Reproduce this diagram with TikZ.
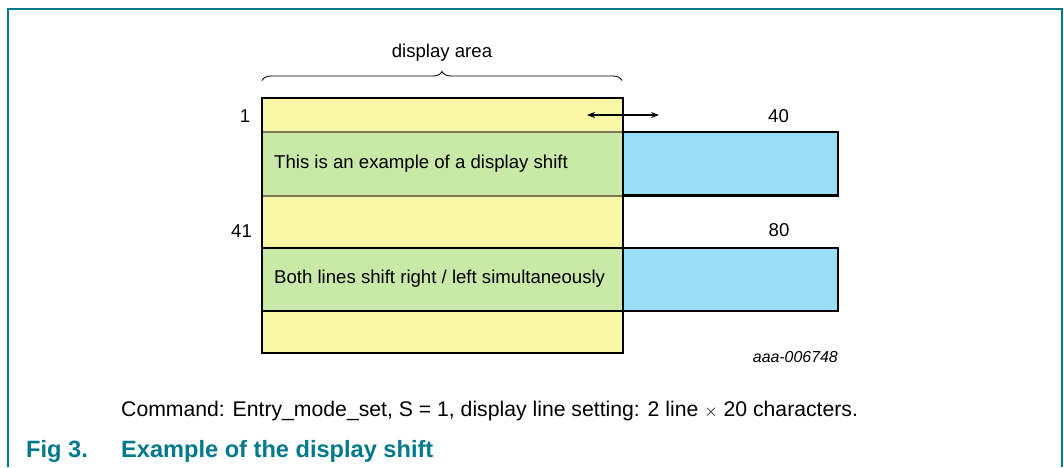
\documentclass[tikz,border=0pt]{standalone}
\usepackage{fontspec}
\setmainfont{Liberation Sans}
\usetikzlibrary{decorations.pathreplacing,arrows.meta}
\definecolor{rowyellow}{RGB}{248,247,168}
\definecolor{rowgreen}{RGB}{201,233,168}
\definecolor{shiftblue}{RGB}{153,222,246}
\definecolor{nxpteal}{RGB}{0,122,138}
\definecolor{olivesep}{RGB}{120,120,82}
\tikzset{
  rowbox/.style={anchor=north west, inner sep=0pt, outer sep=0pt, minimum width=361pt},
  bluebox/.style={anchor=north west, inner sep=0pt, outer sep=0pt, minimum width=215pt, fill=shiftblue, draw=black, line width=2.4pt},
  lbl/.style={inner sep=0pt, font=\fontsize{18.6}{22}\selectfont},
  captitle/.style={inner sep=0pt, anchor=base west, text=nxpteal, font=\fontsize{23.6}{27}\selectfont\bfseries},
}
\begin{document}
\begin{tikzpicture}[x=1pt,y=-1pt]
\useasboundingbox (0,0) rectangle (1064,467);
% frame
\draw[nxpteal, line width=2pt] (8,467) -- (8,9) -- (1062,9) -- (1062,467);
% rows
\node[rowbox, fill=rowyellow, minimum height=33.5pt] (r1) at (262,98) {};
\node[rowbox, fill=rowgreen, minimum height=64.5pt] (r2) at (262,131.5) {};
\node[rowbox, fill=rowyellow, minimum height=52pt] (r3) at (262,196) {};
\node[rowbox, fill=rowgreen, minimum height=63pt] (r4) at (262,248) {};
\node[rowbox, fill=rowyellow, minimum height=42pt] (r5) at (262,311) {};
% separators
\draw[olivesep, line width=2pt] (r2.north west) -- (r2.north east);
\draw[olivesep, line width=2pt] (r2.south west) -- (r2.south east);
\draw[black, line width=2pt] (r4.north west) -- (r4.north east);
\draw[black, line width=2pt] (r4.south west) -- (r4.south east);
% outer border
\draw[black, line width=2.4pt] (r1.north west) rectangle (r5.south east);
% blue shifted parts
\node[bluebox, minimum height=63.5pt] (b1) at (623,132) {};
\node[bluebox, minimum height=63pt] (b2) at (623,248) {};
% texts in rows
\node[lbl, anchor=west] (t1) at (274,164) {This is an example of a display shift};
\node[lbl, anchor=west] (t2) at (274,279) {Both lines shift right / left simultaneously};
% numbers
\node[lbl, anchor=base] (n1) at (245,122.7) {1};
\node[lbl, anchor=base] (n40) at (778.5,122.3) {40};
\node[lbl, anchor=base] (n41) at (241.5,237.3) {41};
\node[lbl, anchor=base] (n80) at (779,236.7) {80};
% brace
\coordinate (bl) at (262,80.5);
\coordinate (br) at (622,80.5);
\draw[line width=0.9pt, decorate, decoration={brace, amplitude=9pt}] (bl) -- (br);
\node[lbl, anchor=base] (da) at (442,57) {display area};
% shift arrow
\coordinate (al) at (587,115);
\coordinate (ar) at (659,115);
\draw[line width=1.5pt, {Stealth[length=8pt,width=6pt]}-{Stealth[length=8pt,width=6pt]}] (al) -- (ar);
% id
\node[inner sep=0pt, anchor=base east, font=\fontsize{15.9}{18}\selectfont\itshape] (id) at (838,362.7) {aaa-006748};
% caption
\node[inner sep=0pt, anchor=base west, font=\fontsize{21.2}{24}\selectfont] (cmd) at (121,416) {Command: Entry\_mode\_set, S = 1, display line setting: 2 line {\fontsize{19}{22}\selectfont$\times$} 20 characters.};
\node[captitle] (fig) at (26,457) {Fig 3.};
\node[captitle] (ttl) at (121,457) {Example of the display shift};
\end{tikzpicture}
\end{document}
